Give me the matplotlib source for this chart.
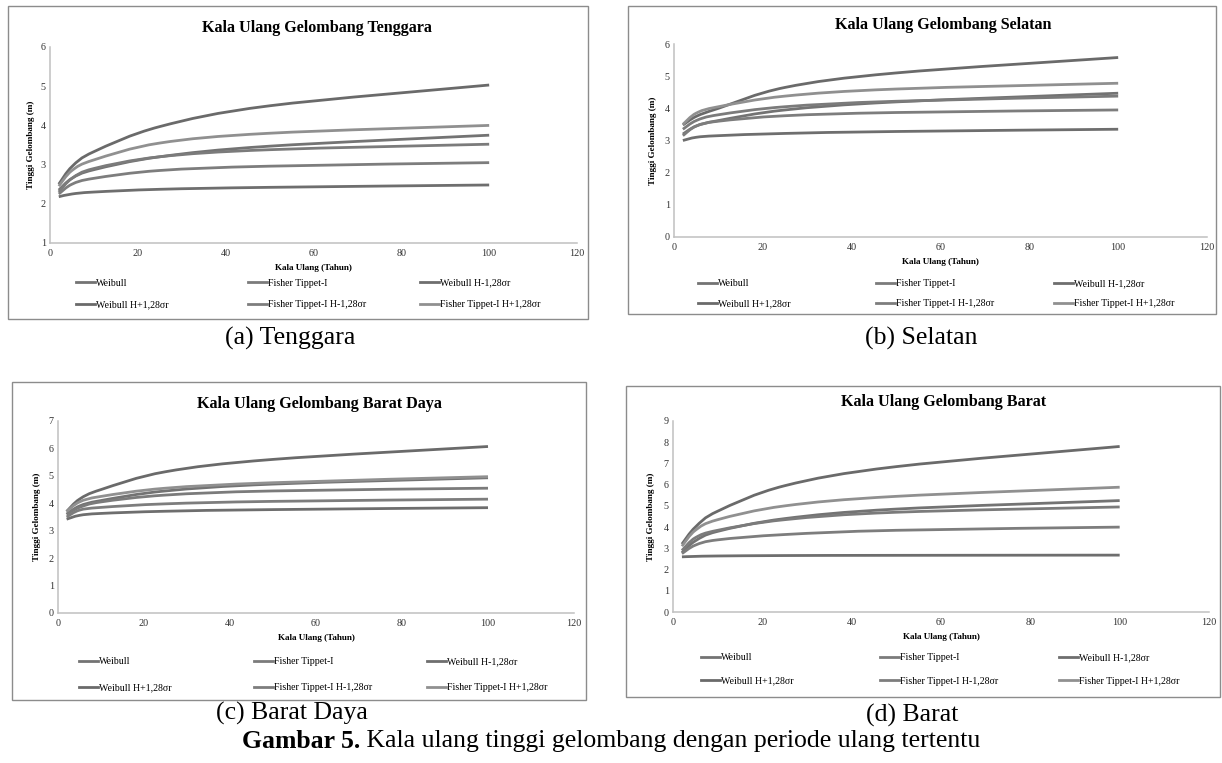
"""plot.py - kala ulang tinggi gelombang, 4 panel"""

import numpy as np
import matplotlib
matplotlib.use("Agg")
import matplotlib.pyplot as plt
from matplotlib.path import Path
from matplotlib.patches import PathPatch, Rectangle
from matplotlib.lines import Line2D

plt.rcParams['font.family'] = ['Liberation Serif', 'DejaVu Serif']

W, H = 1222, 763

# periode ulang (tahun)
years = [2, 5, 10, 25, 50, 100]

labels = ["Weibull", "Fisher Tippet-I", "Weibull H-1,28σr",
          "Weibull H+1,28σr", "Fisher Tippet-I H-1,28σr", "Fisher Tippet-I H+1,28σr"]
colors = ['#737373', '#7b7b7b', '#6e6e6e', '#6a6a6a', '#7d7d7d', '#909090']

# (a) Tenggara
tg_weibull = [2.35, 2.65, 2.87, 3.2, 3.47, 3.75]
tg_fisher = [2.3, 2.65, 2.9, 3.2, 3.38, 3.52]
tg_weibull_lo = [2.18, 2.25, 2.3, 2.37, 2.42, 2.48]
tg_weibull_hi = [2.5, 2.95, 3.33, 3.97, 4.5, 5.03]
tg_fisher_lo = [2.25, 2.5, 2.65, 2.85, 2.96, 3.05]
tg_fisher_hi = [2.45, 2.85, 3.12, 3.55, 3.8, 4.0]

# (b) Selatan
sl_weibull = [3.2, 3.45, 3.62, 3.95, 4.2, 4.47]
sl_fisher = [3.35, 3.62, 3.8, 4.05, 4.22, 4.38]
sl_weibull_lo = [3.0, 3.1, 3.15, 3.22, 3.28, 3.35]
sl_weibull_hi = [3.48, 3.75, 4.0, 4.65, 5.1, 5.58]
sl_fisher_lo = [3.15, 3.45, 3.6, 3.77, 3.87, 3.95]
sl_fisher_hi = [3.5, 3.85, 4.05, 4.38, 4.6, 4.78]

# (c) Barat Daya
bd_weibull = [3.6, 3.9, 4.1, 4.45, 4.7, 4.93]
bd_fisher = [3.6, 3.85, 4.05, 4.3, 4.45, 4.55]
bd_weibull_lo = [3.42, 3.56, 3.63, 3.71, 3.77, 3.84]
bd_weibull_hi = [3.7, 4.15, 4.5, 5.15, 5.6, 6.07]
bd_fisher_lo = [3.5, 3.75, 3.85, 3.98, 4.07, 4.15]
bd_fisher_hi = [3.7, 4.05, 4.25, 4.55, 4.75, 4.97]

# (d) Barat
br_weibull = [2.8, 3.35, 3.8, 4.4, 4.85, 5.25]
br_fisher = [2.9, 3.5, 3.85, 4.35, 4.7, 4.95]
br_weibull_lo = [2.6, 2.62, 2.64, 2.66, 2.67, 2.68]
br_weibull_hi = [3.2, 4.0, 4.75, 5.95, 6.85, 7.8]
br_fisher_lo = [2.75, 3.15, 3.4, 3.65, 3.85, 4.0]
br_fisher_hi = [3.1, 3.85, 4.35, 5.0, 5.45, 5.88]


def fig_rect(x0, y0, x1, y1):
    """pixel box (top-left origin) -> figure fraction [l, b, w, h]"""
    return [x0 / W, 1 - y1 / H, (x1 - x0) / W, (y1 - y0) / H]


def smooth_path(x, y):
    """excel-like smoothed line: catmull-rom as cubic bezier"""
    pts = np.column_stack([x, y]).astype(float)
    ext = np.vstack([pts[0], pts, pts[-1]])
    verts = [pts[0]]
    codes = [Path.MOVETO]
    for i in range(len(pts) - 1):
        p0, p1, p2, p3 = ext[i], ext[i + 1], ext[i + 2], ext[i + 3]
        verts += [p1 + (p2 - p0) / 6, p2 - (p3 - p1) / 6, p2]
        codes += [Path.CURVE4] * 3
    return Path(verts, codes)


def draw_panel(fig, box, axpx, ymax, ymin, title, title_y, series,
               xlab_y, ylab_x, leg_rows, leg_cols, caption, cap_xy):
    fig.add_artist(Rectangle((box[0] / W, 1 - box[3] / H),
                             (box[2] - box[0]) / W, (box[3] - box[1]) / H,
                             transform=fig.transFigure, fill=False,
                             edgecolor='#8c8c8c', lw=1.0, zorder=0))
    ax = fig.add_axes(fig_rect(*axpx))
    for s, c in zip(series, colors):
        ax.add_patch(PathPatch(smooth_path(years, s), fill=False,
                               edgecolor=c, lw=2.0, capstyle='butt'))
    ax.set_xlim(0, 120)
    ax.set_ylim(ymin, ymax)
    ax.set_xticks(range(0, 121, 20))
    ax.set_yticks(range(ymin, ymax + 1))
    for sp in ['top', 'right']:
        ax.spines[sp].set_visible(False)
    for sp in ['left', 'bottom']:
        ax.spines[sp].set_color('#c0c0c0')
        ax.spines[sp].set_linewidth(1.1)
    ax.tick_params(axis='both', length=0, labelsize=7.3, colors='#333333')
    ax.tick_params(axis='x', pad=4.5)
    ax.tick_params(axis='y', pad=3)

    axh = axpx[3] - axpx[1]
    axw = axpx[2] - axpx[0]
    ax.set_xlabel("Kala Ulang (Tahun)", fontsize=6.6, weight='bold', va='center')
    ax.xaxis.set_label_coords(0.5, -(xlab_y - axpx[3]) / axh)
    ax.set_ylabel("Tinggi Gelombang (m)", fontsize=6.6, weight='bold', va='center')
    ax.yaxis.set_label_coords(-(axpx[0] - ylab_x) / axw, 0.5)

    fig.text(((axpx[0] + axpx[2]) / 2 + 3) / W, 1 - title_y / H, title,
             fontsize=11.6, weight='bold', ha='center', va='center')

    for i, (lab, c) in enumerate(zip(labels, colors)):
        row, col = divmod(i, 3)
        fig.legend(handles=[Line2D([], [], color=c, lw=2.0)], labels=[lab],
                   loc='center left',
                   bbox_to_anchor=(leg_cols[col] / W, 1 - leg_rows[row] / H),
                   frameon=False, fontsize=7.1, handlelength=1.9,
                   handletextpad=0.12, borderpad=0, borderaxespad=0)

    fig.text(cap_xy[0] / W, 1 - cap_xy[1] / H, caption, fontsize=18.5,
             ha='center', va='center')
    return ax


fig = plt.figure(figsize=(W / 100, H / 100), dpi=100)

draw_panel(fig, (8, 6, 588, 319), (50, 47, 577, 243), 6, 1,
           "Kala Ulang Gelombang Tenggara", 28,
           [tg_weibull, tg_fisher, tg_weibull_lo, tg_weibull_hi, tg_fisher_lo, tg_fisher_hi],
           268, 31, (283, 305), (76, 248, 420), "(a) Tenggara", (290, 338))

draw_panel(fig, (628, 6, 1216, 314), (674, 44, 1207, 237), 6, 0,
           "Kala Ulang Gelombang Selatan", 25,
           [sl_weibull, sl_fisher, sl_weibull_lo, sl_weibull_hi, sl_fisher_lo, sl_fisher_hi],
           262, 653, (284, 304), (698, 876, 1054), "(b) Selatan", (921, 338))

draw_panel(fig, (12, 382, 586, 700), (58, 421, 574, 613), 7, 0,
           "Kala Ulang Gelombang Barat Daya", 404,
           [bd_weibull, bd_fisher, bd_weibull_lo, bd_weibull_hi, bd_fisher_lo, bd_fisher_hi],
           638, 37, (662, 688), (79, 254, 427), "(c) Barat Daya", (292, 713))

draw_panel(fig, (626, 386, 1220, 697), (673, 421, 1209, 612), 9, 0,
           "Kala Ulang Gelombang Barat", 402,
           [br_weibull, br_fisher, br_weibull_lo, br_weibull_hi, br_fisher_lo, br_fisher_hi],
           637, 651, (658, 681), (701, 880, 1059), "(d) Barat", (912, 715))

# judul gambar: bagian tebal + bagian biasa, dipusatkan
cap_y = 1 - 741 / H
t1 = fig.text(0, cap_y, "Gambar 5.", fontsize=18.5, weight='bold', ha='left', va='center')
t2 = fig.text(0, cap_y, " Kala ulang tinggi gelombang dengan periode ulang tertentu",
              fontsize=18.5, ha='left', va='center')
r = fig.canvas.get_renderer()
w1 = t1.get_window_extent(r).width
w2 = t2.get_window_extent(r).width
x0 = (W - (w1 + w2)) / 2
t1.set_x(x0 / W)
t2.set_x((x0 + w1) / W)

fig.savefig("out.png", dpi=100)
